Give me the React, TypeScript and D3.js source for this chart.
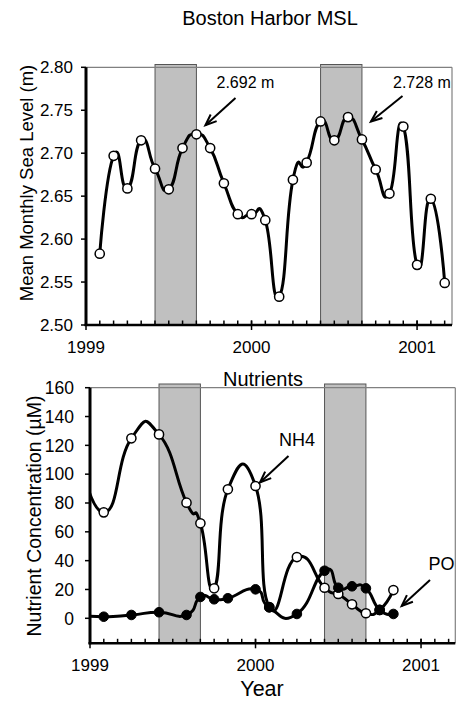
import React from "react";
import * as d3 from "d3";

// ---------- data ----------
const mslTimes = [
  1999.083, 1999.167, 1999.25, 1999.333, 1999.417, 1999.5, 1999.583, 1999.667,
  1999.75, 1999.833, 1999.917, 2000.0, 2000.083, 2000.167, 2000.25, 2000.333,
  2000.417, 2000.5, 2000.583, 2000.667, 2000.75, 2000.833, 2000.917, 2001.0,
  2001.083, 2001.167,
];
const mslValues = [
  2.583, 2.697, 2.659, 2.715, 2.682, 2.658, 2.706, 2.722, 2.706, 2.665, 2.629,
  2.629, 2.622, 2.533, 2.669, 2.689, 2.737, 2.715, 2.742, 2.716, 2.681, 2.653,
  2.731, 2.57, 2.647, 2.549,
];

const nutTimes = [
  1998.917, 1999.083, 1999.25, 1999.417, 1999.583, 1999.667, 1999.75, 1999.833,
  2000.0, 2000.083, 2000.25, 2000.417, 2000.5, 2000.583, 2000.667, 2000.75,
  2000.833,
];
const nh4Values = [
  125, 73.5, 124.9, 127.6, 80.2, 65.9, 20.8, 89.5, 91.8, 7.8, 42.5, 21.2, 16.9,
  9.7, 3.5, 5.8, 19.6,
];
const poValues = [
  2.3, 1.1, 2.3, 4.2, 2.3, 14.8, 13.2, 13.9, 20.1, 7.6, 3.0, 33, 21.2, 22.2,
  20.8, 5.8, 3,
];

// summer shading periods (June - August)
const shadeStarts = [1999.417, 2000.417];
const shadeEnds = [1999.667, 2000.667];

const yearTicks = [1999, 2000, 2001];
const mslTicks = [2.5, 2.55, 2.6, 2.65, 2.7, 2.75, 2.8];
const nutTicks = [0, 20, 40, 60, 80, 100, 120, 140, 160];

const mslNotes = [
  { label: "2.692 m", t: 1999.667, v: 2.722 },
  { label: "2.728 m", t: 2000.667, v: 2.716 },
];

const FONT = "'Liberation Sans', Arial, sans-serif";
const curve = d3.curveCardinal.tension(-0.7);

function Arrow({ x1, y1, x2, y2 }: { x1: number; y1: number; x2: number; y2: number }) {
  const ang = Math.atan2(y1 - y2, x1 - x2);
  const L = 12;
  const a = 0.38;
  const p1 = [x2 + L * Math.cos(ang + a), y2 + L * Math.sin(ang + a)];
  const p2 = [x2 + L * Math.cos(ang - a), y2 + L * Math.sin(ang - a)];
  return (
    <g stroke="#000" strokeWidth={2} fill="none">
      <line x1={x1} y1={y1} x2={x2} y2={y2} />
      <polyline points={`${p1[0]},${p1[1]} ${x2},${y2} ${p2[0]},${p2[1]}`} />
    </g>
  );
}

function XAxis({ x, y, left, right }: { x: any; y: number; left: number; right: number }) {
  const months = d3.range(0, 27).map((m) => 1999 + m / 12).filter((t) => x(t) <= right + 0.5);
  return (
    <g>
      {months.map((t, i) => (
        <line key={"m" + i} x1={x(t)} x2={x(t)} y1={y} y2={y - 4.5} stroke="#000" strokeWidth={1.5} />
      ))}
      {yearTicks.map((t) => (
        <g key={t}>
          <line x1={x(t)} x2={x(t)} y1={y - 4.5} y2={y + 5} stroke="#000" strokeWidth={1.5} />
          <text x={x(t)} y={y + 28} textAnchor="middle" fontSize={17} fontFamily={FONT}>
            {t}
          </text>
        </g>
      ))}
      <line x1={left - 1.5} x2={right} y1={y} y2={y} stroke="#000" strokeWidth={2.5} />
    </g>
  );
}

export default function App() {
  // ---------- top panel ----------
  const tL = 86, tR = 452, tT = 67.3, tB = 325;
  const xTop = d3.scaleLinear().domain([1999, 2001.211]).range([tL, tR]);
  const yTop = d3.scaleLinear().domain([2.5, 2.8]).range([tB, tT]);
  const mslLine = d3
    .line<number>()
    .x((_, i) => xTop(mslTimes[i]))
    .y((d) => yTop(d))
    .curve(curve);

  // ---------- bottom panel ----------
  const bL = 90, bR = 455.3, bT = 387.7, bB = 643.3;
  const xBot = d3.scaleLinear().domain([1999, 2001.207]).range([bL, bR]);
  const yBot = d3.scaleLinear().domain([-17.35, 160]).range([bB, bT]);
  const nutLine = d3
    .line<number>()
    .x((_, i) => xBot(nutTimes[i]))
    .y((d) => yBot(d))
    .curve(curve);

  return (
    <svg
      width={459}
      height={702}
      style={{ position: "absolute", left: 0, top: 0, background: "#fff" }}
      fontFamily={FONT}
    >
      <defs>
        <clipPath id="clipBot">
          <rect x={bL} y={bT - 5} width={bR - bL} height={bB - bT + 5} />
        </clipPath>
        <clipPath id="clipTop">
          <rect x={tL} y={tT - 5} width={tR - tL} height={tB - tT + 5} />
        </clipPath>
      </defs>

      {/* ===== Top panel ===== */}
      <text x={270} y={25} textAnchor="middle" fontSize={20}>
        Boston Harbor MSL
      </text>
      {shadeStarts.map((s, i) => (
        <rect
          key={i}
          x={xTop(s)}
          y={tT - 2.8}
          width={xTop(shadeEnds[i]) - xTop(s)}
          height={tB - tT + 2.8}
          fill="#c0c0c0"
          stroke="#555"
          strokeWidth={1}
        />
      ))}
      <line x1={tL} x2={tR} y1={tT} y2={tT} stroke="#808080" strokeWidth={1.2} />
      <line x1={tR} x2={tR} y1={tT} y2={tB} stroke="#808080" strokeWidth={1.2} />
      <path d={mslLine(mslValues) || ""} fill="none" stroke="#000" strokeWidth={3} clipPath="url(#clipTop)" />
      {mslValues.map((v, i) => (
        <circle key={i} cx={xTop(mslTimes[i])} cy={yTop(v)} r={4.6} fill="#fff" stroke="#000" strokeWidth={1.5} />
      ))}
      {/* y axis */}
      <line x1={tL} x2={tL} y1={tT} y2={tB + 1} stroke="#000" strokeWidth={3} />
      {mslTicks.map((t) => (
        <g key={t}>
          <line x1={tL - 5} x2={tL} y1={yTop(t)} y2={yTop(t)} stroke="#000" strokeWidth={1.5} />
          <text x={73} y={yTop(t)} dy="0.36em" textAnchor="end" fontSize={17}>
            {d3.format(".2f")(t)}
          </text>
        </g>
      ))}
      <XAxis x={xTop} y={tB} left={tL} right={tR} />
      <text
        transform={`translate(33,${183}) rotate(-90)`}
        textAnchor="middle"
        fontSize={18.5}
      >
        Mean Monthly Sea Level (m)
      </text>
      {/* annotations */}
      <text x={216.5} y={88} fontSize={16}>
        {mslNotes[0].label}
      </text>
      <Arrow x1={235.5} y1={98} x2={xTop(mslNotes[0].t) + 9} y2={yTop(mslNotes[0].v) - 9} />
      <text x={393} y={88} fontSize={16}>
        {mslNotes[1].label}
      </text>
      <Arrow x1={402.5} y1={96} x2={xTop(mslNotes[1].t) + 9} y2={yTop(mslNotes[1].v) - 18} />

      {/* ===== Bottom panel ===== */}
      <text x={263} y={386} textAnchor="middle" fontSize={20}>
        Nutrients
      </text>
      {shadeStarts.map((s, i) => (
        <rect
          key={i}
          x={xBot(s)}
          y={bT - 3.7}
          width={xBot(shadeEnds[i]) - xBot(s)}
          height={bB - bT + 3.7}
          fill="#c0c0c0"
          stroke="#555"
          strokeWidth={1}
        />
      ))}
      <line x1={bL} x2={bR} y1={bT} y2={bT} stroke="#808080" strokeWidth={1.2} />
      <line x1={bR} x2={bR} y1={bT} y2={bB} stroke="#808080" strokeWidth={1.2} />
      <g clipPath="url(#clipBot)">
        <path d={nutLine(nh4Values) || ""} fill="none" stroke="#000" strokeWidth={3} />
        {nh4Values.map((v, i) => (
          <circle key={i} cx={xBot(nutTimes[i])} cy={yBot(v)} r={4.6} fill="#fff" stroke="#000" strokeWidth={1.5} />
        ))}
        <path d={nutLine(poValues) || ""} fill="none" stroke="#000" strokeWidth={3} />
        {poValues.map((v, i) => (
          <circle key={i} cx={xBot(nutTimes[i])} cy={yBot(v)} r={4.8} fill="#000" stroke="#000" strokeWidth={1} />
        ))}
      </g>
      <line x1={bL} x2={bL} y1={bT} y2={bB + 1} stroke="#000" strokeWidth={3} />
      {nutTicks.map((t) => (
        <g key={t}>
          <line x1={bL - 5} x2={bL} y1={yBot(t)} y2={yBot(t)} stroke="#000" strokeWidth={1.5} />
          <text x={74} y={yBot(t)} dy="0.36em" textAnchor="end" fontSize={17.5}>
            {t}
          </text>
        </g>
      ))}
      <XAxis x={xBot} y={bB} left={bL} right={bR} />
      <text
        transform={`translate(41,${516}) rotate(-90)`}
        textAnchor="middle"
        fontSize={19.5}
      >
        Nutrient Concentration (µM)
      </text>
      <text x={262} y={696} textAnchor="middle" fontSize={21.5}>
        Year
      </text>
      {/* labels */}
      <text x={279} y={446} fontSize={18}>
        NH4
      </text>
      <Arrow x1={288.5} y1={456} x2={260} y2={482.5} />
      <text x={428.5} y={570} fontSize={18}>
        PO
      </text>
      <Arrow x1={430} y1={580} x2={401.7} y2={606} />
    </svg>
  );
}
